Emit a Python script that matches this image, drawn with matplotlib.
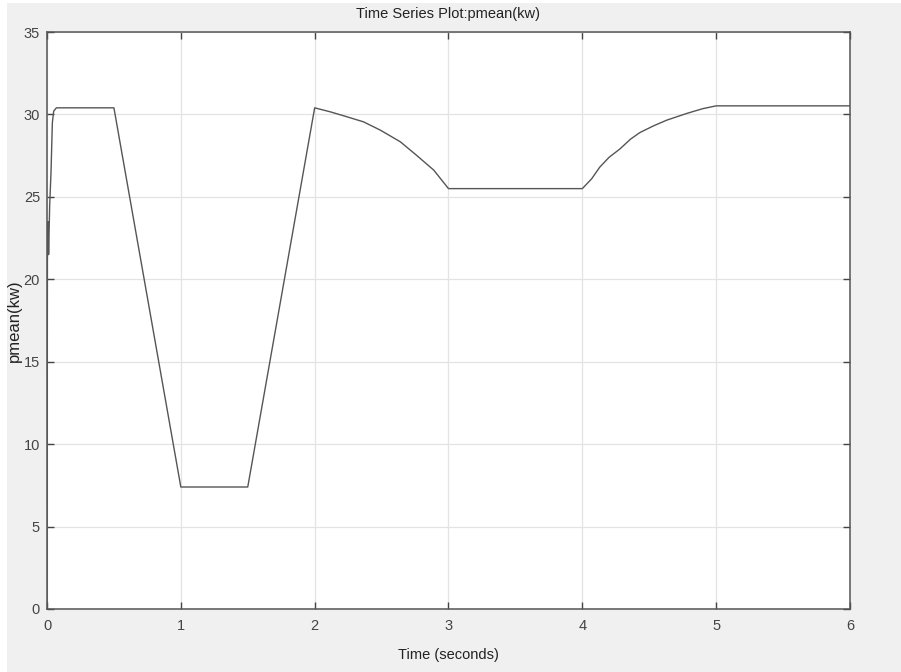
import matplotlib.pyplot as plt
from matplotlib.patches import Rectangle

# values
time_s = [0, 0.003, 0.008, 0.012, 0.016, 0.02, 0.03, 0.04, 0.05, 0.07,
          0.5, 1.0, 1.5, 2.0, 2.12, 2.24, 2.365, 2.49, 2.64, 2.76, 2.89, 3.0,
          4.0, 4.07, 4.13, 4.2, 4.28, 4.36, 4.43, 4.53, 4.63, 4.78, 4.9, 5.0, 6.0]
pmean = [0, 21.2, 23.5, 21.5, 23.0, 24.5, 26.5, 29.5, 30.2, 30.4,
         30.4, 7.4, 7.4, 30.4, 30.15, 29.86, 29.55, 29.05, 28.34, 27.53, 26.62, 25.5,
         25.5, 26.1, 26.8, 27.4, 27.9, 28.5, 28.9, 29.3, 29.65, 30.06, 30.35, 30.52, 30.52]

xticks = [0, 1, 2, 3, 4, 5, 6]
yticks = [0, 5, 10, 15, 20, 25, 30, 35]

plt.rcParams['font.family'] = ['Liberation Sans', 'DejaVu Sans']

fig = plt.figure(figsize=(9.01, 6.72), dpi=100, facecolor='white')
# grey window background with thin white strip at left/top
fig.patches.append(Rectangle((7 / 901, 0), 1, 1 - 3 / 672, transform=fig.transFigure,
                             facecolor='#f0f0f0', edgecolor='none', zorder=-10))

ax = fig.add_axes([47 / 901, 1 - 609 / 672, 803 / 901, 577 / 672])
ax.set_facecolor('white')
ax.plot(time_s, pmean, color='#555555', lw=1.0)

ax.set_xlim(0, 6)
ax.set_ylim(0, 35)
ax.set_xticks(xticks)
ax.set_yticks(yticks)
ax.grid(True, color='#e3e3e3', lw=0.9)
ax.set_axisbelow(True)
ax.tick_params(direction='in', length=5, width=1, color='#444444',
               top=True, right=True, labelsize=10.5, labelcolor='#444444')
ax.tick_params(axis='x', pad=7)
ax.tick_params(axis='y', pad=5)
for s in ax.spines.values():
    s.set_color('#555555')
    s.set_linewidth(1.1)

ax.set_title('Time Series Plot:pmean(kw)', fontsize=10.5, color='#222222', pad=10)
ax.set_xlabel('Time (seconds)', fontsize=10.5, color='#222222', labelpad=11)
ax.set_ylabel('pmean(kw)', fontsize=12, color='#222222')
ax.yaxis.set_label_coords(-0.031, 0.5)

fig.savefig('out.png', dpi=100, facecolor=fig.get_facecolor())
